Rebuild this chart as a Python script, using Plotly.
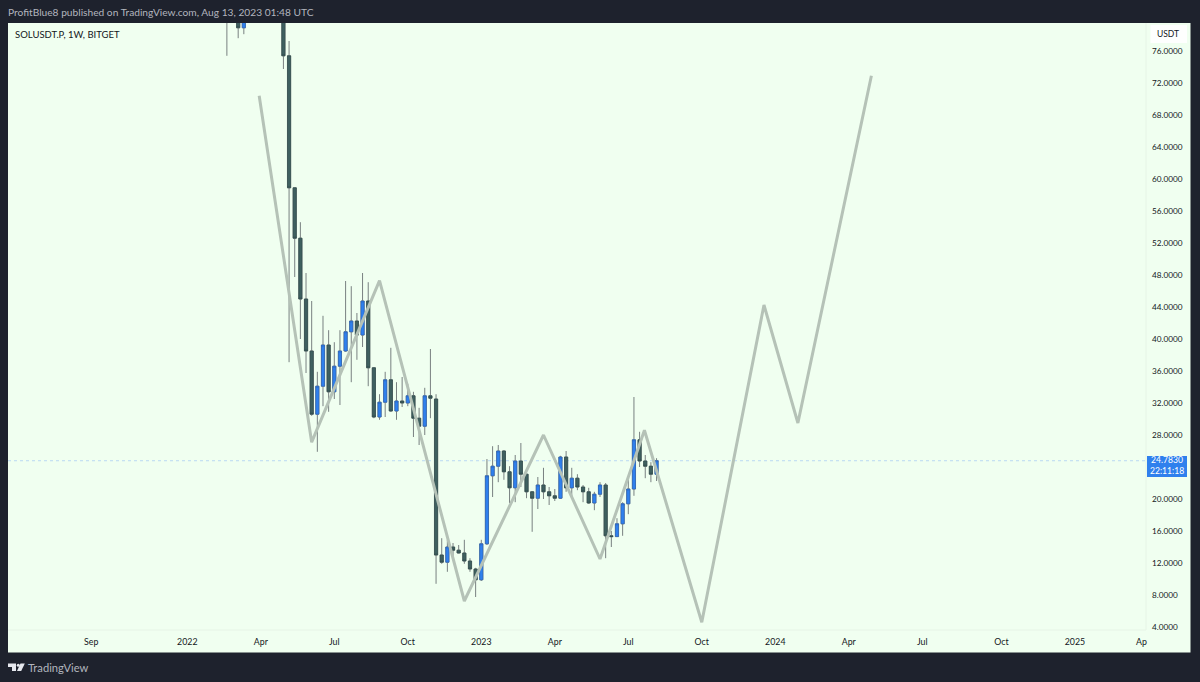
import plotly.graph_objects as go

W, H = 1200, 682

week_dates = [
    "2022-02-21", "2022-03-07", "2022-03-14",
    "2022-05-02", "2022-05-09", "2022-05-16", "2022-05-23", "2022-05-30", "2022-06-06", "2022-06-13",
    "2022-06-20", "2022-06-27", "2022-07-04", "2022-07-11", "2022-07-18", "2022-07-25", "2022-08-01",
    "2022-08-08", "2022-08-15", "2022-08-22", "2022-08-29", "2022-09-05", "2022-09-12", "2022-09-19",
    "2022-09-26", "2022-10-03", "2022-10-10", "2022-10-17", "2022-10-24", "2022-10-31", "2022-11-07",
    "2022-11-14", "2022-11-21", "2022-11-28", "2022-12-05", "2022-12-12", "2022-12-19", "2022-12-26",
    "2023-01-02", "2023-01-09", "2023-01-16", "2023-01-23", "2023-01-30", "2023-02-06", "2023-02-13",
    "2023-02-20", "2023-02-27", "2023-03-06", "2023-03-13", "2023-03-20", "2023-03-27", "2023-04-03",
    "2023-04-10", "2023-04-17", "2023-04-24", "2023-05-01", "2023-05-08", "2023-05-15", "2023-05-22",
    "2023-05-29", "2023-06-05", "2023-06-12", "2023-06-19", "2023-06-26", "2023-07-03", "2023-07-10",
    "2023-07-17", "2023-07-24", "2023-07-31", "2023-08-07",
]
opens = [
    92, 85, 78.9,
    88, 75.4, 58.9, 52.6, 45, 38.5, 30.6,
    34.1, 39.25, 33.4, 36.6, 38.5, 40.9, 42.25,
    40.5, 44.75, 36.4, 30.25, 32.1, 34.9, 31,
    32.25, 32, 32.9, 30.1, 29.1, 32.9, 32.5,
    13, 12.1, 14, 13.6, 13.25, 12.25, 11.25,
    9.9, 14.4, 22.9, 24.1, 26, 23.4, 21.4,
    24.75, 23.1, 20.9, 20.1, 21.75, 20.9, 20.4,
    20.1, 25.25, 21.4, 22.6, 21.5, 20.9, 19.5,
    20.6, 21.75, 15.4, 15.3, 16.9, 19.4, 21.25,
    27.4, 24.75, 24.1, 23.1,
]
highs = [
    100, 90, 88,
    90, 77.25, 58.9, 54.6, 48.25, 44.75, 35.9,
    42.9, 41.1, 39.6, 41.1, 47.25, 46.6, 43.25,
    48.25, 47.1, 36.5, 33.1, 35.9, 38.9, 34.6,
    35.25, 34.4, 33.4, 31.4, 33.9, 38.75, 33.1,
    15.1, 14.9, 14.5, 14.25, 14.9, 12.6, 11.4,
    14.9, 25, 26.6, 26.75, 26.1, 24.1, 25.5,
    27, 23.2, 21, 22.75, 23.9, 21.5, 21.25,
    25.4, 26, 23.9, 23.1, 21.75, 21.4, 20.9,
    22.1, 22, 16, 17.6, 19.6, 22.4, 32.75,
    28.4, 25.5, 24.6, 25.1,
]
lows = [
    75.4, 77.6, 78.1,
    73.75, 37.1, 47.75, 40, 35.75, 30.4, 25.9,
    31.6, 30.9, 32.5, 31.75, 38.4, 34.6, 37.4,
    39, 34.1, 30.1, 29.9, 30.25, 30.9, 29.9,
    31.5, 31.6, 27.75, 26.75, 28, 30.1, 9.4,
    11.9, 10.9, 12.6, 13.2, 11.9, 10.9, 7.75,
    9.75, 14.25, 20.25, 22.1, 22.4, 19.5, 19.6,
    21.5, 20.1, 15.9, 18.75, 20, 19.25, 19.75,
    20, 20.9, 20.25, 21.1, 19.6, 19.4, 18.6,
    20.25, 12.6, 14, 15.25, 15.4, 18.1, 20.4,
    24, 22.6, 22.1, 22.25,
]
closes = [
    88, 78.9, 84,
    75.4, 58.9, 52.6, 45, 38.5, 30.6, 34.1,
    39.25, 33.4, 36.6, 38.5, 40.9, 42.25, 40.5,
    44.75, 36.4, 30.25, 32.1, 34.9, 31, 32.25,
    32, 32.9, 30.1, 29.1, 32.9, 32.6, 13,
    12.1, 14, 13.6, 13.25, 12.25, 11.25, 9.9,
    14.4, 22.9, 24.1, 26, 23.4, 21.4, 24.75,
    23.1, 20.9, 20.1, 21.75, 20.9, 20.4, 20.1,
    25.25, 21.4, 22.6, 21.5, 20.9, 19.5, 20.6,
    21.75, 15.4, 15.3, 16.9, 19.4, 21.25, 27.4,
    24.75, 24.1, 23.1, 24.783,
]

path_dates = ["2022-04-02", "2022-06-06", "2022-08-29", "2022-12-12", "2023-03-20", "2023-05-29",
              "2023-07-23", "2023-10-02", "2023-12-18", "2024-01-29", "2024-04-29"]
path_prices = [70.4, 27.1, 47.3, 7.25, 28, 12.5, 28.6, 4.6, 44.25, 29.5, 72.9]

x_tick_dates = ["2021-09-06", "2022-01-03", "2022-04-04", "2022-07-04", "2022-10-03", "2023-01-02",
                "2023-04-03", "2023-07-03", "2023-10-02", "2024-01-01", "2024-04-01", "2024-07-01",
                "2024-10-07", "2025-01-06"]
x_tick_text = ["Sep", "2022", "Apr", "Jul", "Oct", "2023", "Apr", "Jul", "Oct", "2024", "Apr", "Jul", "Oct", "2025"]
y_ticks = [4, 8, 12, 16, 20, 28, 32, 36, 40, 44, 48, 52, 56, 60, 64, 68, 72, 76]
last_price = 24.783

FONT = "Lato"
DARK_BG = "#1E222D"
PANEL = "#F0FFF0"
BLUE = "#2F80ED"
TEAL = "#3F6060"
BORDER = "#2F4A4A"
WICK = "#788080"
LINE = "#B5C2B7"


def fx(px):
    return px / W


def fy(py):
    return 1 - py / H


body_hi = [max(a, b) for a, b in zip(opens, closes)]
body_lo = [min(a, b) for a, b in zip(opens, closes)]

fig = go.Figure()
fig.add_trace(go.Scatter(x=path_dates, y=path_prices, mode="lines",
                         line=dict(color=LINE, width=3), hoverinfo="skip", showlegend=False))
fig.add_trace(go.Candlestick(
    x=week_dates, open=opens, high=highs, low=lows, close=closes,
    increasing=dict(line=dict(color=WICK, width=1), fillcolor=BLUE),
    decreasing=dict(line=dict(color=WICK, width=1), fillcolor=TEAL),
    whiskerwidth=0, showlegend=False, hoverinfo="skip"))
fig.add_trace(go.Candlestick(
    x=week_dates, open=opens, high=body_hi, low=body_lo, close=closes,
    increasing=dict(line=dict(color="#2A62B8", width=0.6), fillcolor=BLUE),
    decreasing=dict(line=dict(color=BORDER, width=0.6), fillcolor=TEAL),
    whiskerwidth=0, showlegend=False, hoverinfo="skip"))

shapes = [
    dict(type="rect", xref="paper", yref="paper", x0=fx(8), x1=fx(1190.5), y0=fy(652.5), y1=fy(23),
         fillcolor=PANEL, line=dict(width=0), layer="below"),
    dict(type="line", xref="paper", yref="paper", x0=fx(1146), x1=fx(1146), y0=fy(630), y1=fy(23),
         line=dict(color="#E6F4E6", width=1), layer="below"),
    dict(type="line", xref="paper", yref="paper", x0=fx(8), x1=fx(1146), y0=fy(630), y1=fy(630),
         line=dict(color="#E6F4E6", width=1), layer="below"),
    dict(type="line", xref="x domain", yref="y", x0=0, x1=1, y0=last_price, y1=last_price,
         line=dict(color="#B9D8F2", width=1, dash="dot"), layer="below"),
    dict(type="rect", xref="paper", yref="paper", x0=fx(1150.5), x1=fx(1187), y0=fy(43), y1=fy(25),
         fillcolor="#FFFFFF", line=dict(width=0), layer="above", opacity=0.9),
    dict(type="rect", xref="paper", yref="paper", x0=fx(1147), x1=fx(1187), y0=fy(477), y1=fy(456),
         fillcolor=BLUE, line=dict(width=0), layer="above"),
    dict(type="path", xref="paper", yref="paper", layer="above", fillcolor="#E6E8EE", line=dict(width=0),
         path=f"M{fx(8)},{fy(663.5)} L{fx(16)},{fy(663.5)} L{fx(16)},{fy(671)} L{fx(12)},{fy(671)} "
              f"L{fx(12)},{fy(667)} L{fx(8)},{fy(667)} Z"),
    dict(type="circle", xref="paper", yref="paper", layer="above", fillcolor="#E6E8EE", line=dict(width=0),
         x0=fx(16.8), x1=fx(19.8), y0=fy(666.7), y1=fy(663.7)),
    dict(type="path", xref="paper", yref="paper", layer="above", fillcolor="#E6E8EE", line=dict(width=0),
         path=f"M{fx(20.5)},{fy(663.5)} L{fx(24.8)},{fy(663.5)} L{fx(21.2)},{fy(671)} L{fx(17)},{fy(671)} Z"),
]


def note(text, px, py, size, color, anchor="left"):
    return dict(text=text, xref="paper", yref="paper", x=fx(px), y=fy(py), xanchor=anchor, yanchor="middle",
                showarrow=False, font=dict(family=FONT, size=size, color=color), align="center",
                borderpad=0, borderwidth=0)


annotations = [
    note("ProfitBlue8 published on TradingView.com, Aug 13, 2023 01:48 UTC", 8, 12, 10.2, "#B2B5BE"),
    note("SOLUSDT.P, 1W, BITGET", 15, 35, 9.5, "#131722"),
    note("TradingView", 28, 667, 11.2, "#B2B5BE"),
    note("USDT", 1168, 34.5, 8.5, "#131722", "center"),
    note("24.7830", 1167, 460.5, 8.6, "#FFFFFF", "center"),
    note("22:11:18", 1167, 471, 8.6, "#FFFFFF", "center"),
    note("Ap", 1147, 641, 8.8, "#131722", "right"),
]

fig.update_layout(
    width=W, height=H, margin=dict(l=0, r=0, t=0, b=0, autoexpand=False),
    paper_bgcolor=DARK_BG, plot_bgcolor="rgba(0,0,0,0)",
    font=dict(family=FONT, size=9, color="#131722"),
    showlegend=False, shapes=shapes, annotations=annotations, boxgap=0.2,
    xaxis=dict(domain=[fx(8), fx(1146)], range=["2021-05-26", "2025-04-04"], type="date",
               rangeslider=dict(visible=False), showgrid=False, zeroline=False, showline=False,
               tickmode="array", tickvals=x_tick_dates, ticktext=x_tick_text, ticks="", ticklabelstandoff=5,
               tickfont=dict(family=FONT, size=8.8, color="#131722"), tickangle=0, automargin=False),
    yaxis=dict(domain=[fy(630), fy(23)], range=[3.625, 79.5], side="right", showgrid=False, zeroline=False,
               showline=False, tickmode="array", tickvals=y_ticks, ticktext=[f"{v:.4f}" for v in y_ticks],
               ticks="", ticklabelstandoff=5, tickfont=dict(family=FONT, size=8.2, color="#131722"),
               automargin=False),
)

fig.write_html("out.html", config=dict(displayModeBar=False),
               post_script="document.body.style.margin='0';document.body.style.overflow='hidden';")
